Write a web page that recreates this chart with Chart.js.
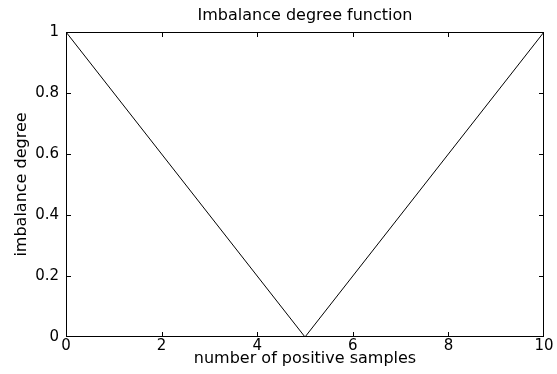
<!DOCTYPE html>
<html>
<head>
<meta charset="utf-8">
<style>
  html, body { margin: 0; padding: 0; background: #ffffff; }
  canvas { display: block; }
</style>
<script src="https://cdn.jsdelivr.net/npm/chart.js@4/dist/chart.umd.min.js"></script>
</head>
<body>
<canvas id="c" width="557" height="374"></canvas>
<script>
// Data
const xValues = [0, 1, 2, 3, 4, 5, 6, 7, 8, 9, 10];
const imbalanceDegree = [1, 0.8, 0.6, 0.4, 0.2, 0, 0.2, 0.4, 0.6, 0.8, 1];
const xTicks = [0, 2, 4, 6, 8, 10];
const yTicks = [0, 0.2, 0.4, 0.6, 0.8, 1];
const chartTitle = 'Imbalance degree function';
const xTitle = 'number of positive samples';
const yTitle = 'imbalance degree';

const FONT = '"DejaVu Sans", "Liberation Sans", Arial, sans-serif';

const boxAndTicks = {
  id: 'boxAndTicks',
  afterDatasetsDraw(chart) {
    const ctx = chart.ctx;
    const ca = chart.chartArea;
    const xs = chart.scales.x, ys = chart.scales.y;
    const L = 5;
    ctx.save();
    ctx.strokeStyle = '#000';
    ctx.lineWidth = 1;
    ctx.beginPath();
    xTicks.forEach(v => {
      const px = Math.round(xs.getPixelForValue(v)) + 0.5;
      if (v === xs.min || v === xs.max) return;
      ctx.moveTo(px, ca.bottom); ctx.lineTo(px, ca.bottom - L);
      ctx.moveTo(px, ca.top); ctx.lineTo(px, ca.top + L);
    });
    yTicks.forEach(v => {
      const py = Math.round(ys.getPixelForValue(v)) + 0.5;
      if (v === ys.min || v === ys.max) return;
      ctx.moveTo(ca.left, py); ctx.lineTo(ca.left + L, py);
      ctx.moveTo(ca.right, py); ctx.lineTo(ca.right - L, py);
    });
    ctx.stroke();
    ctx.strokeRect(ca.left + 0.5, ca.top + 0.5, ca.right - ca.left - 1, ca.bottom - ca.top - 1);
    ctx.restore();
  }
};

new Chart(document.getElementById('c'), {
  type: 'scatter',
  data: {
    datasets: [{
      data: xValues.map((x, i) => ({ x: x, y: imbalanceDegree[i] })),
      showLine: true,
      borderColor: '#000',
      borderWidth: 1,
      pointRadius: 0,
      fill: false,
      tension: 0
    }]
  },
  options: {
    responsive: false,
    animation: false,
    devicePixelRatio: 1,
    layout: { padding: { left: 0, right: 13, top: 0, bottom: 0 } },
    plugins: {
      legend: { display: false },
      tooltip: { enabled: false },
      title: { display: false }
    },
    scales: {
      x: {
        type: 'linear',
        min: 0, max: 10,
        afterFit(scale) { scale.height = 37; },
        afterBuildTicks(scale) { scale.ticks = xTicks.map(v => ({ value: v })); },
        grid: { display: false, drawTicks: false },
        border: { display: false },
        ticks: { color: '#000', padding: 0, maxRotation: 0, font: { family: FONT, size: 15 } },
        title: {
          display: true, text: xTitle, color: '#000',
          font: { family: FONT, size: 16, lineHeight: 1.2 },
          padding: { top: 0, bottom: 5.4 }
        }
      },
      xTop: {
        type: 'linear',
        position: 'top',
        min: 0, max: 10,
        afterFit(scale) { scale.height = 32; },
        grid: { display: false, drawTicks: false },
        border: { display: false },
        ticks: { display: false },
        title: {
          display: true, text: chartTitle, color: '#000',
          font: { family: FONT, size: 16, lineHeight: 1.2 },
          padding: { top: 5.9, bottom: 0 }
        }
      },
      y: {
        type: 'linear',
        min: 0, max: 1,
        afterFit(scale) { scale.width = 66; },
        afterBuildTicks(scale) { scale.ticks = yTicks.map(v => ({ value: v })); },
        grid: { display: false, drawTicks: false },
        border: { display: false },
        ticks: {
          color: '#000', padding: 7, font: { family: FONT, size: 15 },
          callback: v => String(Number(v.toFixed(2)))
        },
        title: {
          display: true, text: yTitle, color: '#000',
          font: { family: FONT, size: 16, lineHeight: 1.2 },
          padding: { top: 12, bottom: 0 }
        }
      }
    }
  },
  plugins: [boxAndTicks]
});
</script>
</body>
</html>
